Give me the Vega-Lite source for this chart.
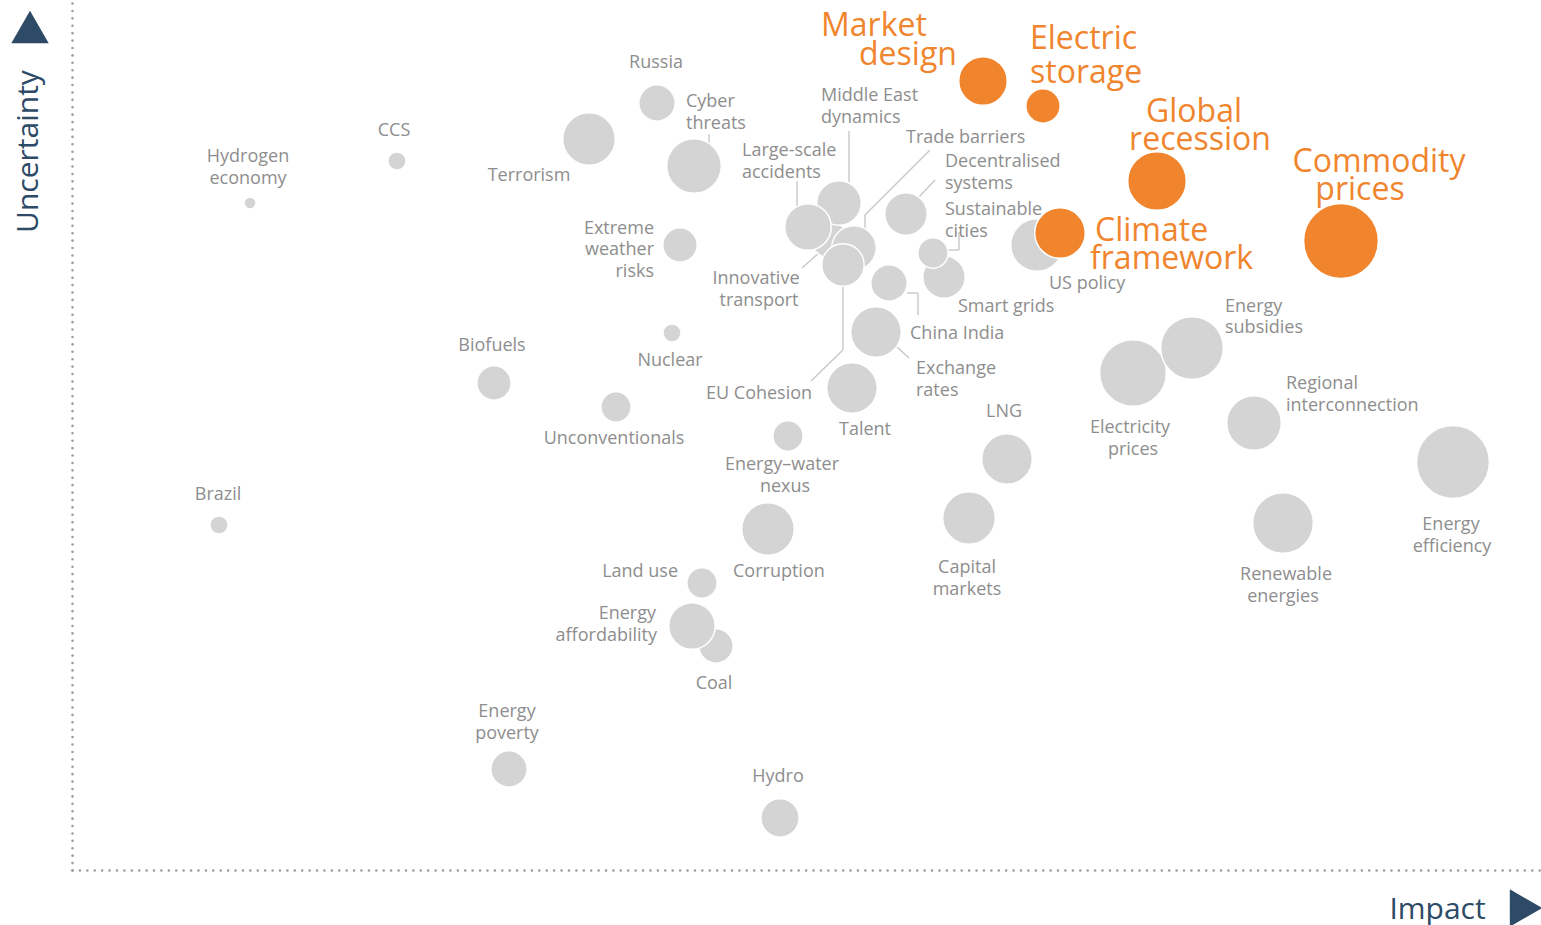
{
  "$schema": "https://vega.github.io/schema/vega-lite/v6.json",
  "width": 1469,
  "height": 870,
  "autosize": {"type": "none"},
  "padding": {"left": 72, "top": 0, "right": 0, "bottom": 55},
  "background": "white",
  "config": {"view": {"stroke": null}, "font": "Open Sans"},
  "datasets": {
    "bubbles": [
      {"risk": "Hydrogen economy", "impact": 17.8, "uncertainty": 66.7, "weight": 2.6, "group": "other"},
      {"risk": "CCS", "impact": 32.5, "uncertainty": 70.9, "weight": 5.9, "group": "other"},
      {"risk": "Russia", "impact": 58.5, "uncertainty": 76.7, "weight": 23.7, "group": "other"},
      {"risk": "Terrorism", "impact": 51.7, "uncertainty": 73.1, "weight": 49.4, "group": "other"},
      {"risk": "Cyber threats", "impact": 62.2, "uncertainty": 70.4, "weight": 53.3, "group": "other"},
      {"risk": "Extreme weather risks", "impact": 60.8, "uncertainty": 62.5, "weight": 21.1, "group": "other"},
      {"risk": "Innovative transport", "impact": 75.8, "uncertainty": 63.0, "weight": 23.7, "group": "other"},
      {"risk": "Middle East dynamics", "impact": 76.7, "uncertainty": 66.7, "weight": 35.4, "group": "other"},
      {"risk": "Large-scale accidents", "impact": 73.6, "uncertainty": 64.3, "weight": 38.6, "group": "other"},
      {"risk": "Trade barriers", "impact": 78.2, "uncertainty": 62.2, "weight": 35.4, "group": "other"},
      {"risk": "EU Cohesion", "impact": 77.1, "uncertainty": 60.5, "weight": 32.2, "group": "other"},
      {"risk": "Decentralised systems", "impact": 83.4, "uncertainty": 65.6, "weight": 32.2, "group": "other"},
      {"risk": "Smart grids", "impact": 87.2, "uncertainty": 59.3, "weight": 32.2, "group": "other"},
      {"risk": "Sustainable cities", "impact": 86.1, "uncertainty": 61.7, "weight": 16.4, "group": "other"},
      {"risk": "China India", "impact": 81.7, "uncertainty": 58.7, "weight": 23.7, "group": "other"},
      {"risk": "Exchange rates", "impact": 80.4, "uncertainty": 53.8, "weight": 45.7, "group": "other"},
      {"risk": "Talent", "impact": 78.0, "uncertainty": 48.2, "weight": 45.7, "group": "other"},
      {"risk": "Nuclear", "impact": 60.0, "uncertainty": 53.7, "weight": 5.9, "group": "other"},
      {"risk": "Biofuels", "impact": 42.2, "uncertainty": 48.7, "weight": 21.1, "group": "other"},
      {"risk": "Unconventionals", "impact": 54.4, "uncertainty": 46.3, "weight": 16.4, "group": "other"},
      {"risk": "Energy–water nexus", "impact": 71.6, "uncertainty": 43.4, "weight": 16.4, "group": "other"},
      {"risk": "Brazil", "impact": 14.7, "uncertainty": 34.5, "weight": 5.9, "group": "other"},
      {"risk": "Corruption", "impact": 69.6, "uncertainty": 34.1, "weight": 49.4, "group": "other"},
      {"risk": "Land use", "impact": 63.0, "uncertainty": 28.7, "weight": 16.4, "group": "other"},
      {"risk": "Coal", "impact": 64.4, "uncertainty": 22.4, "weight": 21.1, "group": "other"},
      {"risk": "Energy affordability", "impact": 62.0, "uncertainty": 24.4, "weight": 38.6, "group": "other"},
      {"risk": "Energy poverty", "impact": 43.7, "uncertainty": 10.1, "weight": 23.7, "group": "other"},
      {"risk": "Hydro", "impact": 70.8, "uncertainty": 5.2, "weight": 26.4, "group": "other"},
      {"risk": "LNG", "impact": 93.5, "uncertainty": 41.1, "weight": 45.7, "group": "other"},
      {"risk": "Capital markets", "impact": 89.7, "uncertainty": 35.2, "weight": 49.4, "group": "other"},
      {"risk": "Electricity prices", "impact": 106.1, "uncertainty": 49.7, "weight": 79.5, "group": "other"},
      {"risk": "Energy subsidies", "impact": 112.0, "uncertainty": 52.2, "weight": 70.2, "group": "other"},
      {"risk": "Regional interconnection", "impact": 118.2, "uncertainty": 44.7, "weight": 53.3, "group": "other"},
      {"risk": "Energy efficiency", "impact": 138.1, "uncertainty": 40.8, "weight": 94.7, "group": "other"},
      {"risk": "Renewable energies", "impact": 121.1, "uncertainty": 34.7, "weight": 65.7, "group": "other"},
      {"risk": "US policy", "impact": 96.5, "uncertainty": 62.5, "weight": 49.4, "group": "other"},
      {"risk": "Market design", "impact": 91.1, "uncertainty": 78.9, "weight": 42.1, "group": "key"},
      {"risk": "Electric storage", "impact": 97.1, "uncertainty": 76.4, "weight": 21.1, "group": "key"},
      {"risk": "Global recession", "impact": 108.5, "uncertainty": 68.9, "weight": 61.4, "group": "key"},
      {"risk": "Climate framework", "impact": 98.8, "uncertainty": 63.7, "weight": 45.7, "group": "key"},
      {"risk": "Commodity prices", "impact": 126.9, "uncertainty": 62.9, "weight": 100, "group": "key"}
    ],
    "labels": [
      {"text": "Hydrogen", "impact": 17.6, "uncertainty": 71.5, "anchor": "center", "group": "other"},
      {"text": "economy", "impact": 17.6, "uncertainty": 69.3, "anchor": "center", "group": "other"},
      {"text": "CCS", "impact": 32.2, "uncertainty": 74.1, "anchor": "center", "group": "other"},
      {"text": "Russia", "impact": 58.4, "uncertainty": 80.9, "anchor": "center", "group": "other"},
      {"text": "Cyber", "impact": 61.4, "uncertainty": 77.0, "anchor": "left", "group": "other"},
      {"text": "threats", "impact": 61.4, "uncertainty": 74.8, "anchor": "left", "group": "other"},
      {"text": "Terrorism", "impact": 45.7, "uncertainty": 69.6, "anchor": "center", "group": "other"},
      {"text": "Middle East", "impact": 74.9, "uncertainty": 77.6, "anchor": "left", "group": "other"},
      {"text": "dynamics", "impact": 74.9, "uncertainty": 75.4, "anchor": "left", "group": "other"},
      {"text": "Large-scale", "impact": 67.0, "uncertainty": 72.1, "anchor": "left", "group": "other"},
      {"text": "accidents", "impact": 67.0, "uncertainty": 69.9, "anchor": "left", "group": "other"},
      {"text": "Trade barriers", "impact": 83.4, "uncertainty": 73.4, "anchor": "left", "group": "other"},
      {"text": "Decentralised", "impact": 87.3, "uncertainty": 71.0, "anchor": "left", "group": "other"},
      {"text": "systems", "impact": 87.3, "uncertainty": 68.8, "anchor": "left", "group": "other"},
      {"text": "Sustainable", "impact": 87.3, "uncertainty": 66.2, "anchor": "left", "group": "other"},
      {"text": "cities", "impact": 87.3, "uncertainty": 64.0, "anchor": "left", "group": "other"},
      {"text": "Extreme", "impact": 58.2, "uncertainty": 64.3, "anchor": "right", "group": "other"},
      {"text": "weather", "impact": 58.2, "uncertainty": 62.2, "anchor": "right", "group": "other"},
      {"text": "risks", "impact": 58.2, "uncertainty": 60.0, "anchor": "right", "group": "other"},
      {"text": "Innovative", "impact": 68.4, "uncertainty": 59.3, "anchor": "center", "group": "other"},
      {"text": "transport", "impact": 68.7, "uncertainty": 57.1, "anchor": "center", "group": "other"},
      {"text": "Smart grids", "impact": 88.6, "uncertainty": 56.5, "anchor": "left", "group": "other"},
      {"text": "US policy", "impact": 97.7, "uncertainty": 58.8, "anchor": "left", "group": "other"},
      {"text": "China India", "impact": 83.8, "uncertainty": 53.8, "anchor": "left", "group": "other"},
      {"text": "Exchange", "impact": 84.4, "uncertainty": 50.3, "anchor": "left", "group": "other"},
      {"text": "rates", "impact": 84.4, "uncertainty": 48.1, "anchor": "left", "group": "other"},
      {"text": "EU Cohesion", "impact": 63.4, "uncertainty": 47.8, "anchor": "left", "group": "other"},
      {"text": "Talent", "impact": 79.3, "uncertainty": 44.2, "anchor": "center", "group": "other"},
      {"text": "Biofuels", "impact": 42.0, "uncertainty": 52.6, "anchor": "center", "group": "other"},
      {"text": "Nuclear", "impact": 59.8, "uncertainty": 51.1, "anchor": "center", "group": "other"},
      {"text": "Unconventionals", "impact": 54.2, "uncertainty": 43.3, "anchor": "center", "group": "other"},
      {"text": "Energy–water", "impact": 71.0, "uncertainty": 40.7, "anchor": "center", "group": "other"},
      {"text": "nexus", "impact": 71.3, "uncertainty": 38.5, "anchor": "center", "group": "other"},
      {"text": "LNG", "impact": 93.2, "uncertainty": 46.0, "anchor": "center", "group": "other"},
      {"text": "Electricity", "impact": 105.8, "uncertainty": 44.4, "anchor": "center", "group": "other"},
      {"text": "prices", "impact": 106.1, "uncertainty": 42.2, "anchor": "center", "group": "other"},
      {"text": "Energy", "impact": 115.3, "uncertainty": 56.5, "anchor": "left", "group": "other"},
      {"text": "subsidies", "impact": 115.3, "uncertainty": 54.4, "anchor": "left", "group": "other"},
      {"text": "Regional", "impact": 121.4, "uncertainty": 48.8, "anchor": "left", "group": "other"},
      {"text": "interconnection", "impact": 121.4, "uncertainty": 46.6, "anchor": "left", "group": "other"},
      {"text": "Energy", "impact": 137.9, "uncertainty": 34.7, "anchor": "center", "group": "other"},
      {"text": "efficiency", "impact": 138.0, "uncertainty": 32.5, "anchor": "center", "group": "other"},
      {"text": "Renewable", "impact": 121.4, "uncertainty": 29.7, "anchor": "center", "group": "other"},
      {"text": "energies", "impact": 121.1, "uncertainty": 27.5, "anchor": "center", "group": "other"},
      {"text": "Capital", "impact": 89.5, "uncertainty": 30.4, "anchor": "center", "group": "other"},
      {"text": "markets", "impact": 89.5, "uncertainty": 28.2, "anchor": "center", "group": "other"},
      {"text": "Brazil", "impact": 14.6, "uncertainty": 37.7, "anchor": "center", "group": "other"},
      {"text": "Corruption", "impact": 66.1, "uncertainty": 30.0, "anchor": "left", "group": "other"},
      {"text": "Land use", "impact": 60.6, "uncertainty": 30.0, "anchor": "right", "group": "other"},
      {"text": "Energy", "impact": 58.4, "uncertainty": 25.8, "anchor": "right", "group": "other"},
      {"text": "affordability", "impact": 58.5, "uncertainty": 23.6, "anchor": "right", "group": "other"},
      {"text": "Coal", "impact": 64.2, "uncertainty": 18.8, "anchor": "center", "group": "other"},
      {"text": "Energy", "impact": 43.5, "uncertainty": 16.0, "anchor": "center", "group": "other"},
      {"text": "poverty", "impact": 43.5, "uncertainty": 13.8, "anchor": "center", "group": "other"},
      {"text": "Hydro", "impact": 70.6, "uncertainty": 9.5, "anchor": "center", "group": "other"},
      {"text": "Market", "impact": 74.9, "uncertainty": 84.6, "anchor": "left", "group": "key"},
      {"text": "design", "impact": 78.7, "uncertainty": 81.7, "anchor": "left", "group": "key"},
      {"text": "Electric", "impact": 95.8, "uncertainty": 83.3, "anchor": "left", "group": "key"},
      {"text": "storage", "impact": 95.8, "uncertainty": 79.9, "anchor": "left", "group": "key"},
      {"text": "Global", "impact": 112.2, "uncertainty": 76.0, "anchor": "center", "group": "key"},
      {"text": "recession", "impact": 112.8, "uncertainty": 73.2, "anchor": "center", "group": "key"},
      {"text": "Commodity", "impact": 130.7, "uncertainty": 71.0, "anchor": "center", "group": "key"},
      {"text": "prices", "impact": 128.8, "uncertainty": 68.2, "anchor": "center", "group": "key"},
      {"text": "Climate", "impact": 102.3, "uncertainty": 64.1, "anchor": "left", "group": "key"},
      {"text": "framework", "impact": 101.8, "uncertainty": 61.3, "anchor": "left", "group": "key"}
    ],
    "leaders": [
      {"risk": "Cyber threats", "impact": 63.7, "uncertainty": 73.6, "impact2": 63.7, "uncertainty2": 72.7},
      {"risk": "Middle East dynamics", "impact": 77.7, "uncertainty": 73.9, "impact2": 77.7, "uncertainty2": 68.8},
      {"risk": "Large-scale accidents", "impact": 72.5, "uncertainty": 68.9, "impact2": 72.5, "uncertainty2": 66.4},
      {"risk": "Trade barriers", "impact": 85.8, "uncertainty": 72.0, "impact2": 79.3, "uncertainty2": 65.5},
      {"risk": "Trade barriers", "impact": 79.3, "uncertainty": 65.5, "impact2": 79.3, "uncertainty2": 64.2},
      {"risk": "Decentralised systems", "impact": 86.3, "uncertainty": 69.0, "impact2": 84.7, "uncertainty2": 67.3},
      {"risk": "Sustainable cities", "impact": 88.7, "uncertainty": 63.8, "impact2": 88.7, "uncertainty2": 62.0},
      {"risk": "Sustainable cities", "impact": 88.7, "uncertainty": 62.0, "impact2": 87.5, "uncertainty2": 62.0},
      {"risk": "Innovative transport", "impact": 73.0, "uncertainty": 60.2, "impact2": 75.8, "uncertainty2": 62.7},
      {"risk": "China India", "impact": 83.5, "uncertainty": 57.7, "impact2": 84.6, "uncertainty2": 57.7},
      {"risk": "China India", "impact": 84.6, "uncertainty": 57.7, "impact2": 84.6, "uncertainty2": 55.5},
      {"risk": "Exchange rates", "impact": 82.5, "uncertainty": 52.3, "impact2": 83.7, "uncertainty2": 51.2},
      {"risk": "EU Cohesion", "impact": 77.1, "uncertainty": 58.4, "impact2": 77.1, "uncertainty2": 52.0},
      {"risk": "EU Cohesion", "impact": 77.1, "uncertainty": 52.0, "impact2": 73.9, "uncertainty2": 48.9}
    ],
    "arrows": [
      {"axis": "uncertainty", "impact": -4.2, "uncertainty": 84.3},
      {"axis": "impact", "impact": 145.4, "uncertainty": -3.8}
    ]
  },
  "encoding": {
    "x": {
      "field": "impact",
      "type": "quantitative",
      "scale": {"domain": [0, 146.9], "nice": false, "zero": false},
      "axis": {
        "title": "Impact",
        "domain": true,
        "domainColor": "#9c9c9c",
        "domainWidth": 2.6,
        "domainDash": [0.01, 7.4],
        "domainCap": "round",
        "ticks": false,
        "labels": false,
        "grid": false,
        "titleFont": "Open Sans",
        "titleFontSize": 30,
        "titleFontWeight": "normal",
        "titleColor": "#2d4a66",
        "titleX": 1365,
        "titleY": 39,
        "titleAlign": "center",
        "titleBaseline": "middle"
      }
    },
    "y": {
      "field": "uncertainty",
      "type": "quantitative",
      "scale": {"domain": [0, 87], "nice": false, "zero": false},
      "axis": {
        "title": "Uncertainty",
        "domain": true,
        "domainColor": "#9c9c9c",
        "domainWidth": 2.6,
        "domainDash": [0.01, 7.4],
        "domainCap": "round",
        "ticks": false,
        "labels": false,
        "grid": false,
        "titleFont": "Open Sans",
        "titleFontSize": 30,
        "titleFontWeight": "normal",
        "titleColor": "#2d4a66",
        "titleAngle": -90,
        "titleX": -44,
        "titleY": 151,
        "titleAlign": "center",
        "titleBaseline": "middle"
      }
    }
  },
  "layer": [
    {
      "data": {"name": "leaders"},
      "mark": {"type": "rule", "color": "#c8c8c8", "strokeWidth": 1.4},
      "encoding": {
        "x2": {"field": "impact2"},
        "y2": {"field": "uncertainty2"}
      }
    },
    {
      "data": {"name": "bubbles"},
      "mark": {"type": "point", "shape": "circle", "filled": true, "opacity": 1, "stroke": "white", "strokeWidth": 1.5},
      "encoding": {
        "size": {"field": "weight", "type": "quantitative", "scale": {"type": "linear", "domain": [0, 100], "range": [0, 5600]}, "legend": null},
        "color": {"field": "group", "type": "nominal", "scale": {"domain": ["other", "key"], "range": ["#d4d4d4", "#f0852e"]}, "legend": null}
      }
    },
    {
      "data": {"name": "labels"},
      "transform": [{"filter": "datum.anchor === 'left'"}],
      "mark": {"type": "text", "align": "left", "baseline": "middle", "font": "Open Sans", "dy": 1.5},
      "encoding": {
        "text": {"field": "text"},
        "size": {"field": "group", "type": "nominal", "scale": {"domain": ["other", "key"], "range": [18, 32]}, "legend": null},
        "color": {"field": "group", "type": "nominal", "scale": {"domain": ["other", "key"], "range": ["#8e8e8e", "#f0852e"]}, "legend": null}
      }
    },
    {
      "data": {"name": "labels"},
      "transform": [{"filter": "datum.anchor === 'center'"}],
      "mark": {"type": "text", "align": "center", "baseline": "middle", "font": "Open Sans", "dy": 1.5},
      "encoding": {
        "text": {"field": "text"},
        "size": {"field": "group", "type": "nominal", "scale": {"domain": ["other", "key"], "range": [18, 32]}, "legend": null},
        "color": {"field": "group", "type": "nominal", "scale": {"domain": ["other", "key"], "range": ["#8e8e8e", "#f0852e"]}, "legend": null}
      }
    },
    {
      "data": {"name": "labels"},
      "transform": [{"filter": "datum.anchor === 'right'"}],
      "mark": {"type": "text", "align": "right", "baseline": "middle", "font": "Open Sans", "dy": 1.5},
      "encoding": {
        "text": {"field": "text"},
        "size": {"field": "group", "type": "nominal", "scale": {"domain": ["other", "key"], "range": [18, 32]}, "legend": null},
        "color": {"field": "group", "type": "nominal", "scale": {"domain": ["other", "key"], "range": ["#8e8e8e", "#f0852e"]}, "legend": null}
      }
    },
    {
      "data": {"name": "arrows"},
      "mark": {"type": "point", "filled": true, "opacity": 1, "size": 1400, "color": "#2d4a66"},
      "encoding": {
        "shape": {"field": "axis", "type": "nominal", "scale": {"domain": ["uncertainty", "impact"], "range": ["triangle-up", "triangle-right"]}, "legend": null}
      }
    }
  ],
  "resolve": {"scale": {"size": "independent", "color": "independent"}}
}
